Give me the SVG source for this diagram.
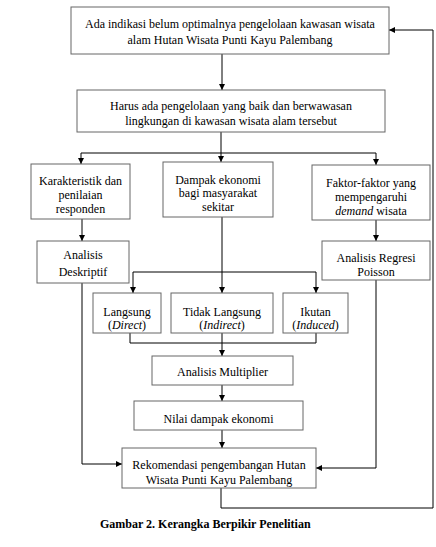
<svg xmlns="http://www.w3.org/2000/svg" width="436" height="547" viewBox="0 0 436 547">
<style>
.box{fill:#fff;stroke:#666;stroke-width:1}
.t{font-family:"Liberation Serif","Times New Roman",serif;font-size:12px;fill:#000;text-anchor:middle}
.c{fill:none;stroke:#000;stroke-width:1}
.cap{font-family:"Liberation Serif","Times New Roman",serif;font-size:12px;font-weight:bold;fill:#000}
</style>
<defs>
<marker id="ah" markerWidth="6" markerHeight="6" refX="6" refY="3" orient="auto" markerUnits="userSpaceOnUse">
<path d="M0,0 L6,3 L0,6 z" fill="#000"/>
</marker>
</defs>
<rect width="436" height="547" fill="#fff"/>
<g id="connectors">
<path class="c" d="M222,54 V90" marker-end="url(#ah)"/>
<path class="c" d="M221,132 V162" marker-end="url(#ah)"/>
<path class="c" d="M81,153 H376"/>
<path class="c" d="M81,153 V164" marker-end="url(#ah)"/>
<path class="c" d="M376,153 V165" marker-end="url(#ah)"/>
<path class="c" d="M82,219 V241" marker-end="url(#ah)"/>
<path class="c" d="M376,220 V241" marker-end="url(#ah)"/>
<path class="c" d="M222,217 V293" marker-end="url(#ah)"/>
<path class="c" d="M133,272 H316"/>
<path class="c" d="M133,272 V293" marker-end="url(#ah)"/>
<path class="c" d="M316,272 V293" marker-end="url(#ah)"/>
<path class="c" d="M130,333 V343 H316 V333"/>
<path class="c" d="M222,333 V356" marker-end="url(#ah)"/>
<path class="c" d="M222,385 V401" marker-end="url(#ah)"/>
<path class="c" d="M222,430 V448" marker-end="url(#ah)"/>
<path class="c" d="M82,283 V464 H122" marker-end="url(#ah)"/>
<path class="c" d="M376,280 V468 H316" marker-end="url(#ah)"/>
<path class="c" d="M221,488 V508 H433 V30 H389" marker-end="url(#ah)"/>
</g>
<g id="n1"><rect class="box" x="71" y="7" width="318" height="47"/>
<text class="t" x="230" y="28">Ada indikasi belum optimalnya pengelolaan kawasan wisata</text>
<text class="t" x="230" y="44">alam Hutan Wisata Punti Kayu Palembang</text></g>
<g id="n2"><rect class="box" x="77" y="90" width="308" height="42"/>
<text class="t" x="231" y="110">Harus ada pengelolaan yang baik dan berwawasan</text>
<text class="t" x="231" y="125">lingkungan di kawasan wisata alam tersebut</text></g>
<g id="n3"><rect class="box" x="31" y="164" width="99" height="55"/>
<text class="t" x="80.5" y="185">Karakteristik dan</text>
<text class="t" x="80.5" y="199">penilaian</text>
<text class="t" x="80.5" y="213">responden</text></g>
<g id="n4"><rect class="box" x="163" y="162" width="110" height="55"/>
<text class="t" x="218" y="184">Dampak ekonomi</text>
<text class="t" x="218" y="197">bagi masyarakat</text>
<text class="t" x="218" y="211">sekitar</text></g>
<g id="n5"><rect class="box" x="312" y="165" width="118" height="55"/>
<text class="t" x="371" y="187">Faktor-faktor yang</text>
<text class="t" x="371" y="201">mempengaruhi</text>
<text class="t" x="371" y="215"><tspan font-style="italic">demand</tspan> wisata</text></g>
<g id="n6"><rect class="box" x="37" y="241" width="92" height="42"/>
<text class="t" x="83" y="259">Analisis</text>
<text class="t" x="83" y="276">Deskriptif</text></g>
<g id="n7"><rect class="box" x="322" y="241" width="108" height="39"/>
<text class="t" x="376" y="262">Analisis Regresi</text>
<text class="t" x="376" y="276">Poisson</text></g>
<g id="n8"><rect class="box" x="93" y="293" width="68" height="40"/>
<text class="t" x="127" y="316">Langsung</text>
<text class="t" x="127" y="329">(<tspan font-style="italic">Direct</tspan>)</text></g>
<g id="n9"><rect class="box" x="171" y="293" width="102" height="40"/>
<text class="t" x="222" y="316">Tidak Langsung</text>
<text class="t" x="222" y="329">(<tspan font-style="italic">Indirect</tspan>)</text></g>
<g id="n10"><rect class="box" x="283" y="293" width="65" height="40"/>
<text class="t" x="315.5" y="316">Ikutan</text>
<text class="t" x="315.5" y="329">(<tspan font-style="italic">Induced</tspan>)</text></g>
<g id="n11"><rect class="box" x="152" y="356" width="141" height="29"/>
<text class="t" x="222.5" y="376">Analisis Multiplier</text></g>
<g id="n12"><rect class="box" x="134" y="401" width="169" height="29"/>
<text class="t" x="218.5" y="423">Nilai dampak ekonomi</text></g>
<g id="n13"><rect class="box" x="122" y="448" width="194" height="40"/>
<text class="t" x="219" y="469">Rekomendasi pengembangan Hutan</text>
<text class="t" x="219" y="484">Wisata Punti Kayu Palembang</text></g>
<text class="cap" x="100" y="528">Gambar 2. Kerangka Berpikir Penelitian</text>
</svg>
